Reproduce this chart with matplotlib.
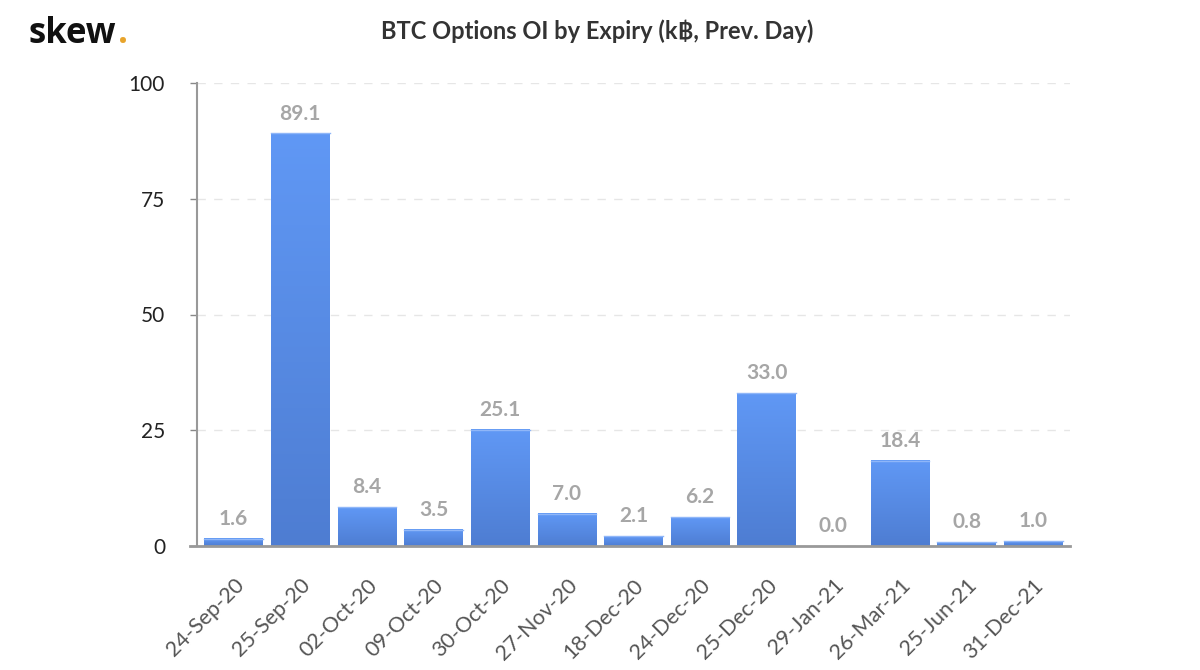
import numpy as np
import matplotlib
matplotlib.use("Agg")
import matplotlib.pyplot as plt
from matplotlib.colors import LinearSegmentedColormap

expiries = ["24-Sep-20", "25-Sep-20", "02-Oct-20", "09-Oct-20", "30-Oct-20",
            "27-Nov-20", "18-Dec-20", "24-Dec-20", "25-Dec-20", "29-Jan-21",
            "26-Mar-21", "25-Jun-21", "31-Dec-21"]
open_interest = [1.6, 89.1, 8.4, 3.5, 25.1, 7.0, 2.1, 6.2, 33.0, 0.0, 18.4, 0.8, 1.0]
y_ticks = [0, 25, 50, 75, 100]

plt.rcParams["font.family"] = ["Lato", "DejaVu Sans"]

fig = plt.figure(figsize=(12, 6.7), dpi=100)
ax = fig.add_axes([197 / 1200, 1 - 546 / 670, 873 / 1200, 463 / 670])

x = np.arange(len(expiries))
bars = ax.bar(x, open_interest, width=0.88, color="none", edgecolor="none")

# vertical gradient per bar: light on top, darker at the base
grad_cmap = LinearSegmentedColormap.from_list("bar", ["#4e7dd2", "#6098f5"])
grad = np.linspace(0, 1, 256).reshape(-1, 1)
for b in bars:
    h = b.get_height()
    if h <= 0:
        continue
    x0 = b.get_x()
    ax.imshow(grad, cmap=grad_cmap, origin="lower", aspect="auto",
              extent=[x0, x0 + b.get_width(), 0, h], zorder=2)
    ax.plot([x0, x0 + b.get_width()], [h, h], color="#8fb6f8", lw=1, zorder=3)

for xi, v in zip(x, open_interest):
    ax.text(xi, v + 3.0, f"{v:.1f}", ha="center", va="baseline",
            fontsize=15, fontweight="bold", color="#a6a6a6", zorder=4)

ax.set_xlim(-0.55, len(expiries) - 0.45)
ax.set_ylim(0, 100)
ax.set_yticks(y_ticks)
ax.set_xticks(x)
ax.set_xticklabels(expiries, rotation=45, ha="right", rotation_mode="anchor",
                   fontsize=15.5, color="#555555")
ax.tick_params(axis="x", length=0, pad=21)
ax.tick_params(axis="y", length=5, width=1, color="#888888", labelsize=15,
               labelcolor="#222222", pad=18)

ax.grid(axis="y", color="#e6e6e6", linestyle=(0, (6, 6)), lw=1)
ax.set_axisbelow(True)
for side in ("top", "right"):
    ax.spines[side].set_visible(False)
ax.spines["left"].set_color("#999999")
ax.spines["left"].set_linewidth(1.5)
ax.spines["bottom"].set_color("#999999")
ax.spines["bottom"].set_linewidth(2)
ax.spines["bottom"].set_bounds(-0.66, len(expiries) - 0.45)

fig.text(597 / 1200, 1 - 31 / 670, "BTC Options OI by Expiry (k฿, Prev. Day)",
         ha="center", va="center", fontsize=17, fontweight="bold", color="#333333")

logo = fig.text(29 / 1200, 1 - 43 / 670, "skew", ha="left", va="baseline",
                fontsize=25, fontweight="bold", color="#111111",
                family=["Open Sans", "DejaVu Sans"])
fig.add_artist(matplotlib.text.Annotation(
    ".", xy=(1, 0), xycoords=logo, xytext=(1, 0), textcoords="offset points",
    ha="left", va="bottom", fontsize=25, fontweight="bold", color="#e8a42b",
    family=["Open Sans", "DejaVu Sans"]))

fig.savefig("out.png", dpi=100)
